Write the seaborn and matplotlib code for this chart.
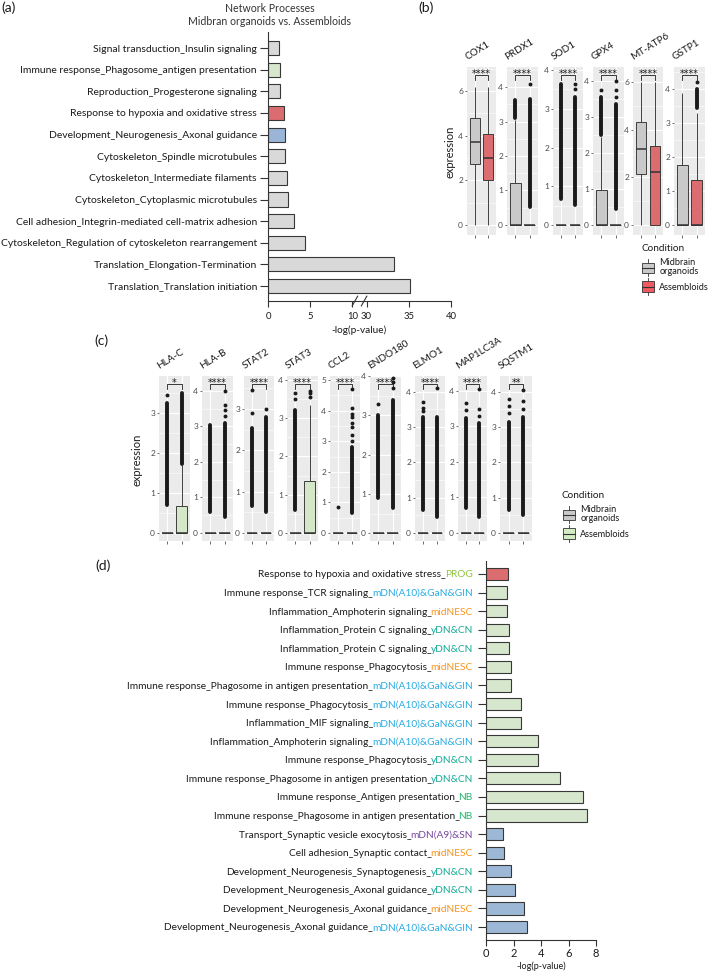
import numpy as np
import pandas as pd
import matplotlib
matplotlib.use("Agg")
import matplotlib.pyplot as plt
import seaborn as sns
from matplotlib.patches import Rectangle, Patch
from matplotlib.lines import Line2D
from matplotlib.legend_handler import HandlerBase
from matplotlib.ticker import MultipleLocator

# ============================ DATA ============================
# (a) Network processes, midbrain organoids vs assembloids
a_terms = [
    "Signal transduction_Insulin signaling",
    "Immune response_Phagosome_antigen presentation",
    "Reproduction_Progesterone signaling",
    "Response to hypoxia and oxidative stress",
    "Development_Neurogenesis_Axonal guidance",
    "Cytoskeleton_Spindle microtubules",
    "Cytoskeleton_Intermediate filaments",
    "Cytoskeleton_Cytoplasmic microtubules",
    "Cell adhesion_Integrin-mediated cell-matrix adhesion",
    "Cytoskeleton_Regulation of cytoskeleton rearrangement",
    "Translation_Elongation-Termination",
    "Translation_Translation initiation",
]
a_values = [1.3, 1.45, 1.45, 1.9, 2.0, 2.05, 2.2, 2.4, 3.1, 4.4, 33.2, 35.2]
a_groups = ["other", "immune", "other", "hypoxia", "axonal", "other",
            "other", "other", "other", "other", "other", "other"]
a_xticks = [0, 5, 10, 30, 35, 40]

conditions = ["Midbrain organoids", "Assembloids"]

# (b) oxidative-stress genes: (lower whisker, Q1, median, Q3, upper whisker)
b_genes = ["COX1", "PRDX1", "SOD1", "GPX4", "MT-ATP6", "GSTP1"]
b_mb_box = [(0, 2.73, 3.72, 4.8, 6.2), (0, 0, 0, 1.22, 3.05), (0, 0, 0, 0, 0),
            (0, 0, 0, 0.97, 2.45), (0, 2.14, 3.19, 4.33, 6.0), (0, 0, 0, 1.78, 3.9)]
b_as_box = [(0, 2.02, 3.0, 4.08, 6.2), (0, 0, 0, 0, 0), (0, 0, 0, 0, 0),
            (0, 0, 0, 0, 0), (0, 0, 2.22, 3.32, 6.0), (0, 0, 0, 1.33, 3.3)]
b_mb_dense = [None, (3.1, 3.62), (0.67, 3.65), (2.5, 3.55), None, None]
b_as_dense = [None, (0.52, 3.65), (0.52, 3.3), (0.45, 3.35), None, (3.45, 4.0)]
b_mb_pts = [[], [], [], [3.75], [], []]
b_as_pts = [[], [4.1], [3.5, 3.65], [3.55, 3.75, 4.0], [], [4.2]]
b_sig = ["****", "****", "****", "****", "****", "****"]

# (c) immune genes
c_genes = ["HLA-C", "HLA-B", "STAT2", "STAT3", "CCL2", "ENDO180", "ELMO1", "MAP1LC3A", "SQSTM1"]
c_mb_box = [(0, 0, 0, 0, 0)] * 9
c_as_box = [(0, 0, 0, 0.68, 1.7), (0, 0, 0, 0, 0), (0, 0, 0, 0, 0),
            (0, 0, 0, 1.35, 3.35), (0, 0, 0, 0, 0), (0, 0, 0, 0, 0),
            (0, 0, 0, 0, 0), (0, 0, 0, 0, 0), (0, 0, 0, 0, 0)]
c_mb_dense = [(0.7, 3.25), (0.6, 3.05), (0.65, 2.55), (0.6, 3.2), None,
              (0.9, 3.0), (0.65, 3.3), (0.7, 3.25), (0.65, 3.15)]
c_as_dense = [(1.72, 3.5), (0.45, 3.1), (0.5, 2.8), None, (0.65, 2.8),
              (0.65, 3.4), (0.45, 3.3), (0.45, 3.1), (0.5, 3.3)]
c_mb_pts = [[3.45], [], [2.9, 3.45], [3.5, 3.65], [0.85], [3.3],
            [3.45, 3.55, 3.7], [3.45, 3.65], [3.4, 3.6, 3.8]]
c_as_pts = [[], [3.3, 3.45, 3.6, 4.0], [3.0], [3.55, 3.65, 3.7],
            [3.0, 3.2, 3.45, 3.6, 3.8, 3.9, 4.1, 4.7], [3.7, 3.85, 3.95, 4.1],
            [4.1], [3.3, 3.5, 4.05], [3.5, 3.75, 4.05]]
c_sig = ["*", "****", "****", "****", "****", "****", "****", "****", "**"]

# (d) cell-type resolved processes
d_process = [
    "Response to hypoxia and oxidative stress",
    "Immune response_TCR signaling",
    "Inflammation_Amphoterin signaling",
    "Inflammation_Protein C signaling",
    "Inflammation_Protein C signaling",
    "Immune response_Phagocytosis",
    "Immune response_Phagosome in antigen presentation",
    "Immune response_Phagocytosis",
    "Inflammation_MIF signaling",
    "Inflammation_Amphoterin signaling",
    "Immune response_Phagocytosis",
    "Immune response_Phagosome in antigen presentation",
    "Immune response_Antigen presentation",
    "Immune response_Phagosome in antigen presentation",
    "Transport_Synaptic vesicle exocytosis",
    "Cell adhesion_Synaptic contact",
    "Development_Neurogenesis_Synaptogenesis",
    "Development_Neurogenesis_Axonal guidance",
    "Development_Neurogenesis_Axonal guidance",
    "Development_Neurogenesis_Axonal guidance",
]
d_celltype = ["PROG", "mDN(A10)&GaN&GIN", "midNESC", "yDN&CN", "yDN&CN", "midNESC",
              "mDN(A10)&GaN&GIN", "mDN(A10)&GaN&GIN", "mDN(A10)&GaN&GIN",
              "mDN(A10)&GaN&GIN", "yDN&CN", "yDN&CN", "NB", "NB", "mDN(A9)&SN",
              "midNESC", "yDN&CN", "yDN&CN", "midNESC", "mDN(A10)&GaN&GIN"]
d_values = [1.62, 1.5, 1.53, 1.7, 1.7, 1.79, 1.79, 2.52, 2.57, 3.76, 3.81, 5.41,
            7.03, 7.35, 1.21, 1.33, 1.79, 2.13, 2.74, 3.0]
d_groups = ["hypoxia"] + ["immune"] * 13 + ["axonal"] * 6
d_xticks = [0, 2, 4, 6, 8]

# ============================ STYLE ============================
W, H = 709, 975
FONT = ["Lato", "DejaVu Sans"]
plt.rcParams["font.family"] = FONT
plt.rcParams["axes.linewidth"] = 0.8

GRAY_BAR = "#D9D9D9"
RED = "#EE5A5F"
BLUE = "#8FB4E3"
GREEN_BAR = "#D5EBCA"
BOX_GRAY = "#C9C9C9"
BOX_GREEN = "#D3ECC4"
EDGE = "#383838"
a_palette = {"other": GRAY_BAR, "immune": GREEN_BAR, "hypoxia": RED, "axonal": BLUE}
d_palette = {"immune": GREEN_BAR, "hypoxia": RED, "axonal": "#93B7E0"}
cell_colors = {"PROG": "#8DC63F", "mDN(A10)&GaN&GIN": "#29ABE2", "midNESC": "#F7941D",
               "yDN&CN": "#16AA96", "NB": "#27B66E", "mDN(A9)&SN": "#7A4A9E"}

fig = plt.figure(figsize=(W / 100, H / 100), dpi=100)


def add_ax(x0, y0, x1, y1):
    return fig.add_axes([x0 / W, 1 - y1 / H, (x1 - x0) / W, (y1 - y0) / H])


# ============================ (a) ============================
GAP = 1.66


def fwd(x):
    x = np.asarray(x, dtype=float)
    return np.where(x <= 10, x, np.where(x >= 30, x - 20 + GAP, 10 + (x - 10) * GAP / 20))


def inv(y):
    y = np.asarray(y, dtype=float)
    return np.where(y <= 10, y, np.where(y >= 10 + GAP, y + 20 - GAP, 10 + (y - 10) * 20 / GAP))


axa = add_ax(268, 32, 451, 301)
dfa = pd.DataFrame({"term": a_terms, "value": a_values, "group": a_groups})
sns.barplot(data=dfa, x="value", y="term", hue="group", palette=a_palette, order=a_terms,
            dodge=False, width=0.65, edgecolor=EDGE, linewidth=0.8, errorbar=None,
            legend=False, ax=axa)
axa.set_xscale("function", functions=(fwd, inv))
axa.set_xlim(0, 40)
axa.set_ylim(11.69, -0.74)
axa.set_xticks(a_xticks)
axa.set_xticklabels([str(t) for t in a_xticks])
for s in ["top", "right"]:
    axa.spines[s].set_visible(False)
for s in ["left", "bottom"]:
    axa.spines[s].set_color("#333333")
axa.tick_params(axis="y", length=5.5, width=0.8, pad=2.5, labelsize=7.5, color="#333333",
                labelcolor="#1a1a1a")
axa.tick_params(axis="x", length=4, width=0.8, pad=4, labelsize=6.8, color="#333333",
                labelcolor="#1a1a1a")
axa.set_ylabel("")
axa.set_xlabel("-log(p-value)", fontsize=7.2, labelpad=3, color="#1a1a1a")
for xs in [(0.46, 0.49), (0.51, 0.54)]:
    axa.plot(xs, (-0.018, 0.018), transform=axa.transAxes, color="#333333", lw=0.8,
             clip_on=False)
fig.text(270 / W, 1 - 3 / H, "Network Processes\nMidbran organoids vs. Assembloids",
         ha="center", va="top", fontsize=7.6, linespacing=1.2, color="#333333")


# ============================ box facets ============================
def facet(ax, gene, mb_box, as_box, mb_dense, as_dense, mb_pts, as_pts, sig, ylim, as_color):
    vals = list(mb_box) + list(as_box)
    conds = [conditions[0]] * len(mb_box) + [conditions[1]] * len(as_box)
    df = pd.DataFrame({"cond": conds, "val": vals})
    ax.set_facecolor("#EBEBEB")
    sns.boxplot(data=df, x="cond", y="val", hue="cond", order=conditions, hue_order=conditions,
                palette={conditions[0]: BOX_GRAY, conditions[1]: as_color}, dodge=False,
                width=0.75, whis=np.inf, showcaps=False, showfliers=False,
                linecolor="#333333", linewidth=0.65, medianprops={"linewidth": 1.1},
                legend=False, ax=ax)
    for xi, dense, pts in [(0, mb_dense, mb_pts), (1, as_dense, as_pts)]:
        if dense is not None:
            ax.vlines(xi, dense[0], dense[1], color="#1a1a1a", lw=2.8, capstyle="round", zorder=3)
        if pts:
            ax.plot([xi] * len(pts), pts, "o", ms=2.8, mew=0, color="#1a1a1a", zorder=3)
    ax.set_xlim(-0.6, 1.6)
    ax.set_ylim(*ylim)
    step = 2 if ylim[1] > 5.5 else 1
    ax.yaxis.set_major_locator(MultipleLocator(step))
    ax.yaxis.set_minor_locator(MultipleLocator(step / 2))
    ax.set_xticks([0, 1])
    ax.set_xticklabels(["", ""])
    ax.set_axisbelow(True)
    ax.grid(True, which="major", color="white", lw=0.8)
    ax.grid(True, which="minor", axis="y", color="white", lw=0.4)
    for s in ax.spines.values():
        s.set_visible(False)
    ax.tick_params(axis="both", which="major", length=1.8, width=0.5, color="#333333",
                   labelsize=6, labelcolor="#4D4D4D", pad=1)
    ax.tick_params(axis="both", which="minor", length=0)
    ax.set_xlabel("")
    ax.set_ylabel("")
    tr = ax.get_xaxis_transform()
    ax.plot([0, 0, 1, 1], [0.922, 0.952, 0.952, 0.922], transform=tr, color="#1a1a1a",
            lw=0.6, clip_on=False)
    ax.text(0.5, 0.94, sig, transform=tr, ha="center", va="baseline", fontsize=7,
            color="#1a1a1a", family="DejaVu Sans")
    ax.text(0.05, 1.03, gene, transform=ax.transAxes, rotation=32, rotation_mode="anchor",
            ha="left", va="bottom", fontsize=7.2, color="#1a1a1a")


b_xpos = [(467, 496), (507, 538), (553, 583), (593, 624), (633, 663), (674, 705)]
b_ylim = [(-0.45, 7.08), (-0.29, 4.58), (-0.26, 4.08), (-0.28, 4.39), (-0.42, 6.64),
          (-0.29, 4.65)]
for i, g in enumerate(b_genes):
    ax = add_ax(b_xpos[i][0], 67, b_xpos[i][1], 235)
    facet(ax, g, b_mb_box[i], b_as_box[i], b_mb_dense[i], b_as_dense[i], b_mb_pts[i],
          b_as_pts[i], b_sig[i], b_ylim[i], RED)

c_xpos = [(159, 190), (202, 233), (244, 274), (287, 318), (330, 360), (370, 401),
          (415, 445), (458, 487), (500, 532)]
c_ylim = [(-0.2, 3.925), (-0.225, 4.42), (-0.19, 3.80), (-0.21, 4.10), (-0.26, 5.13),
          (-0.2, 4.0), (-0.23, 4.45), (-0.23, 4.42), (-0.23, 4.45)]
for i, g in enumerate(c_genes):
    ax = add_ax(c_xpos[i][0], 376, c_xpos[i][1], 541)
    facet(ax, g, c_mb_box[i], c_as_box[i], c_mb_dense[i], c_as_dense[i], c_mb_pts[i],
          c_as_pts[i], c_sig[i], c_ylim[i], BOX_GREEN)

fig.text(450 / W, 1 - 152 / H, "expression", rotation=90, ha="center", va="center",
         fontsize=8, color="#1a1a1a")
fig.text(137 / W, 1 - 460 / H, "expression", rotation=90, ha="center", va="center",
         fontsize=8, color="#1a1a1a")


class BoxKey(HandlerBase):
    def create_artists(self, legend, orig_handle, xdescent, ydescent, width, height,
                       fontsize, trans):
        fc = orig_handle.get_facecolor()
        x0, y0 = -xdescent, -ydescent
        cx = x0 + width / 2
        whisk = Line2D([cx, cx], [y0 - height * 0.3, y0 + height * 1.3], color="#333333",
                       lw=0.6, transform=trans)
        box = Rectangle((x0 + width * 0.08, y0), width * 0.84, height, facecolor=fc,
                        edgecolor="#333333", lw=0.6, transform=trans)
        med = Line2D([x0 + width * 0.08, x0 + width * 0.92], [y0 + height / 2] * 2,
                     color="#333333", lw=0.8, transform=trans)
        return [whisk, box, med]


def cond_legend(x, y, color):
    handles = [Patch(facecolor=BOX_GRAY), Patch(facecolor=color)]
    leg = fig.legend(handles, ["Midbrain\norganoids", "Assembloids"], title="Condition",
                     loc="upper left", bbox_to_anchor=(x / W, 1 - y / H), frameon=False,
                     handler_map={Patch: BoxKey()}, fontsize=6.6, title_fontsize=7.2,
                     handlelength=1.55, handleheight=1.35, handletextpad=0.45,
                     labelspacing=0.55, borderpad=0, borderaxespad=0, alignment="left")
    for t in leg.get_texts():
        t.set_color("#1a1a1a")
        t.set_linespacing(1.05)
    leg.get_title().set_color("#1a1a1a")


cond_legend(641, 244, RED)
cond_legend(562, 491, BOX_GREEN)

# ============================ (d) ============================
axd = add_ax(486, 561, 596, 940)
d_rows = [str(i) for i in range(len(d_values))]
dfd = pd.DataFrame({"row": d_rows, "value": d_values, "group": d_groups})
sns.barplot(data=dfd, x="value", y="row", hue="group", palette=d_palette, order=d_rows,
            dodge=False, width=0.66, edgecolor=EDGE, linewidth=0.8, errorbar=None,
            legend=False, ax=axd)
axd.set_xlim(0, 8)
axd.set_ylim(19.7, -0.7)
axd.set_xticks(d_xticks)
axd.set_xticklabels([str(t) for t in d_xticks])
axd.set_yticks(range(len(d_rows)))
axd.set_yticklabels([""] * len(d_rows))
for s in ["top", "right"]:
    axd.spines[s].set_visible(False)
for s in ["left", "bottom"]:
    axd.spines[s].set_color("#333333")
axd.tick_params(axis="y", length=5.5, width=0.8, color="#333333")
axd.tick_params(axis="x", length=4, width=0.8, pad=2, labelsize=8, color="#333333",
                labelcolor="#1a1a1a")
axd.set_ylabel("")
axd.set_xlabel("-log(p-value)", fontsize=6.5, labelpad=1.5, color="#1a1a1a")

LAB_FS = 7.25
PAD_PT = 9.5
YOFF = -2.5
ytr = axd.get_yaxis_transform()
suffix_texts = []
for i, ct in enumerate(d_celltype):
    t = axd.annotate(ct, xy=(0, i), xycoords=ytr, xytext=(-PAD_PT, YOFF),
                     textcoords="offset points", ha="right", va="baseline",
                     fontsize=LAB_FS, color=cell_colors[ct])
    suffix_texts.append(t)
fig.canvas.draw()
renderer = fig.canvas.get_renderer()
for i, (proc, t) in enumerate(zip(d_process, suffix_texts)):
    wpt = t.get_window_extent(renderer).width * 72 / fig.dpi
    axd.annotate(proc + "_", xy=(0, i), xycoords=ytr, xytext=(-PAD_PT - wpt + 0.7, YOFF),
                 textcoords="offset points", ha="right", va="baseline",
                 fontsize=LAB_FS, color="#1a1a1a")

# panel letters
for lab, x, y in [("(a)", 1, 1), ("(b)", 418, 1), ("(c)", 94, 334), ("(d)", 95, 559)]:
    fig.text(x / W, 1 - y / H, lab, ha="left", va="top", fontsize=10, color="#1a1a1a")

fig.savefig("out.png", dpi=100)
